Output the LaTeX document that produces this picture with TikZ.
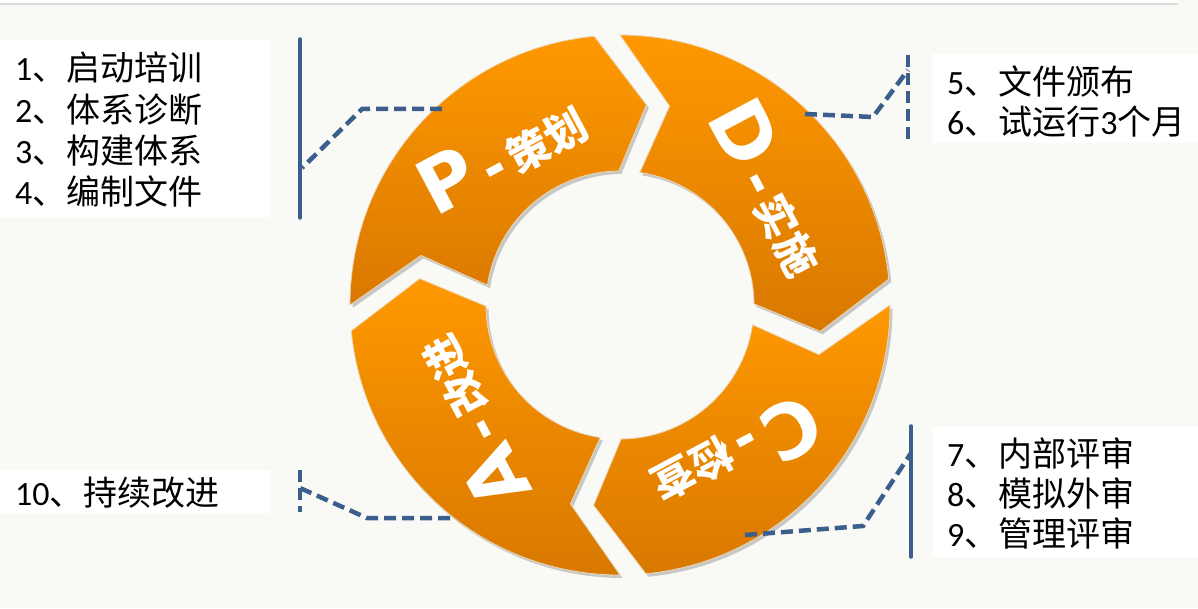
\documentclass[tikz,border=0pt]{standalone}
\usepackage{fontspec}
\setmainfont{Carlito}
\newfontfamily\cjk{Noto Sans CJK SC}
\newfontfamily\bigf{DejaVu Sans}
\usetikzlibrary{shadows}
\definecolor{bgc}{RGB}{249,249,245}
\definecolor{linec}{RGB}{59,94,140}
\definecolor{orgtop}{RGB}{255,152,0}
\definecolor{orgbot}{RGB}{216,120,0}
\definecolor{segedge}{RGB}{236,214,186}
\tikzset{
  segment/.style={top color=orgtop, bottom color=orgbot, draw=segedge, line width=0.8pt,
    drop shadow={shadow xshift=2.5pt, shadow yshift=-3pt, opacity=0.2, fill=black}},
  listtxt/.style={anchor=base west, inner sep=0pt, text=black, font=\fontsize{34}{41}\selectfont},
  whitebox/.style={fill=white, draw=none, inner sep=0pt, anchor=south west},
  solidline/.style={draw=linec, line width=3.5pt, line cap=round},
  dashline/.style={draw=linec, line width=4.5pt, dash pattern=on 12pt off 6pt},
  seglabel/.style={text=white, inner sep=0pt, font=\cjk\bfseries},
}
\newcommand\biglet[1]{{\bigf\bfseries\fontsize{76}{76}\selectfont #1}}
\newcommand\smlab[1]{{\fontsize{42}{42}\selectfont\hspace{11pt}\rule[11pt]{16pt}{8pt}\hspace{10pt}#1}}
\begin{document}
\begin{tikzpicture}[x=1pt,y=1pt]
\useasboundingbox (0,0) rectangle (1198,608);
\fill[bgc] (0,0) rectangle (1198,608);
% top strip
\fill[black!14] (0,602.5) rectangle (1178,606);
\fill[white] (0,605) rectangle (1178,608);

% white boxes
\node[whitebox, minimum width=270pt, minimum height=177pt] (boxTL) at (0,391) {};
\node[whitebox, minimum width=270pt, minimum height=43pt] (boxBL) at (0,95) {};
\node[whitebox, minimum width=266pt, minimum height=89pt] (boxTR) at (932,465) {};
\node[whitebox, minimum width=265pt, minimum height=130pt] (boxBR) at (933,51) {};

% ring segments
\begin{scope}[shift={(620,303)}]
\foreach \o in {0,-90,-180,-270}{
  \path[segment] ({180+\o}:270) arc[start angle={180+\o}, end angle={95.5+\o}, radius=270pt]
     -- ({82.5+\o}:202) -- ({90.5+\o}:134)
     arc[start angle={90.5+\o}, end angle={171.5+\o}, radius=134pt]
     -- ({166+\o}:205) -- cycle;
}
\node[seglabel, rotate=28] (lp) at (128:192) {\biglet{P}\smlab{策划}};
\node[seglabel, rotate=-62] (ld) at (38:192) {\biglet{D}\smlab{实施}};
\node[seglabel, rotate=-152] (lc) at (-52:192) {\biglet{C}\smlab{检查}};
\node[seglabel, rotate=118] (la) at (218:192) {\biglet{A}\smlab{改进}};
\end{scope}

% list texts
\node[listtxt] (l1) at (15,527) {1{\cjk 、启动培训}};
\node[listtxt] (l2) at (15,485.7) {2{\cjk 、体系诊断}};
\node[listtxt] (l3) at (15,444.4) {3{\cjk 、构建体系}};
\node[listtxt] (l4) at (15,403) {4{\cjk 、编制文件}};
\node[listtxt] (l10) at (15,103) {10{\cjk 、持续改进}};
\node[listtxt] (r5) at (947,513) {5{\cjk 、文件颁布}};
\node[listtxt] (r6) at (947,473) {6{\cjk 、试运行}3{\cjk 个月}};
\node[listtxt] (r7) at (947,142) {7{\cjk 、内部评审}};
\node[listtxt] (r8) at (947,102) {8{\cjk 、模拟外审}};
\node[listtxt] (r9) at (947,62) {9{\cjk 、管理评审}};

% brackets and connectors
\coordinate (tlA) at (300,569); \coordinate (tlB) at (300,390);
\draw[solidline] (tlA) -- (tlB);
\coordinate (tl1) at (302,440); \coordinate (tl2) at (362,499); \coordinate (tl3) at (442,499);
\draw[dashline] (tl3) -- (tl2) -- (tl1);

\coordinate (trA) at (908,553); \coordinate (trB) at (908,466);
\draw[dashline] (trA) -- (trB);
\coordinate (tr1) at (805,494); \coordinate (tr2) at (873,491); \coordinate (tr3) at (908,538);
\draw[dashline] (tr1) -- (tr2) -- (tr3);

\coordinate (blA) at (300,138); \coordinate (blB) at (300,96);
\draw[dashline] (blA) -- (blB);
\coordinate (bl1) at (300,120); \coordinate (bl2) at (367,90); \coordinate (bl3) at (450,90);
\draw[dashline] (bl3) -- (bl2) -- (bl1);

\coordinate (brA) at (911,182); \coordinate (brB) at (911,51);
\draw[solidline] (brA) -- (brB);
\coordinate (br1) at (745,73); \coordinate (br2) at (863,82); \coordinate (br3) at (911,155);
\draw[dashline] (br1) -- (br2) -- (br3);
\end{tikzpicture}
\end{document}
